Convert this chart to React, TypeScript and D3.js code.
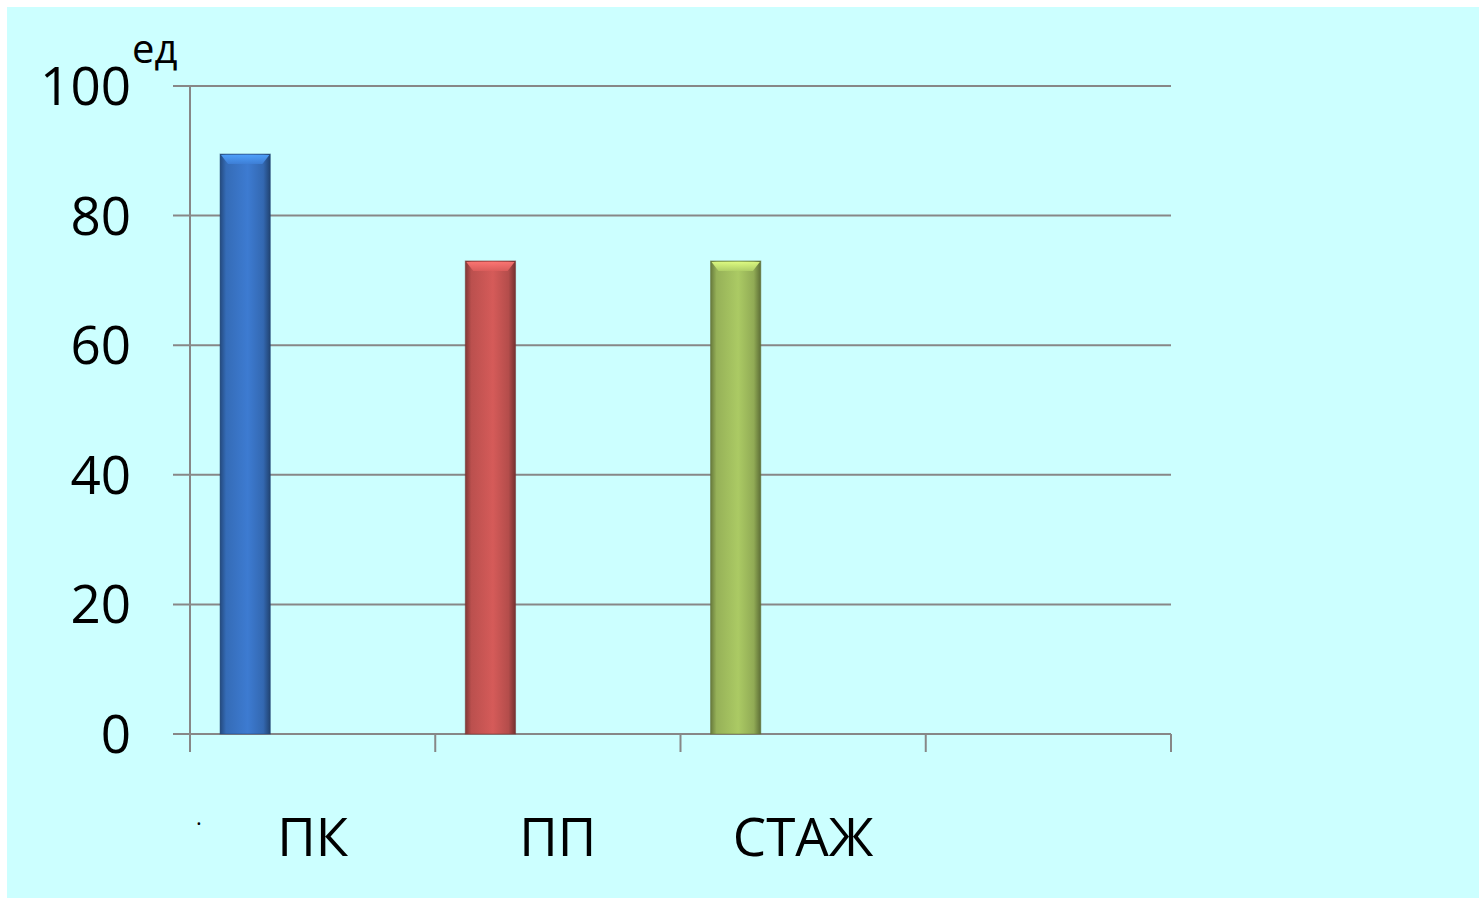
import React, { useEffect, useRef } from "react";
import * as d3 from "d3";

const categories = ["ПК", "ПП", "СТАЖ", ""];
const values = [89.5, 73, 73];
const barColors = ["#3a76c8", "#cc5755", "#a4c260"];
const yTicks = [0, 20, 40, 60, 80, 100];
const unitLabel = "ед";

const W = 1479;
const H = 898;

export default function App() {
  const ref = useRef(null);

  useEffect(() => {
    document.body.style.margin = "0";
    const svg = d3.select(ref.current);
    svg.selectAll("*").remove();

    const font = "'Open Sans', sans-serif";
    const left = 190, right = 1171, top = 86, bottom = 734;

    const x = d3.scaleBand().domain(categories).range([left, right]).padding(0);
    const y = d3.scaleLinear().domain([0, 100]).range([bottom, top]);

    // background
    svg.append("rect").attr("x", 7).attr("y", 7).attr("width", W - 7).attr("height", H - 7).attr("fill", "#ccffff");

    const defs = svg.append("defs");
    barColors.forEach((c, i) => {
      const base = d3.color(c);
      const g = defs.append("linearGradient").attr("id", `bar${i}`).attr("x1", 0).attr("x2", 1).attr("y1", 0).attr("y2", 0);
      g.append("stop").attr("offset", "0%").attr("stop-color", base.darker(1.3).formatHex());
      g.append("stop").attr("offset", "12%").attr("stop-color", base.darker(0.25).formatHex());
      g.append("stop").attr("offset", "55%").attr("stop-color", base.brighter(0.12).formatHex());
      g.append("stop").attr("offset", "86%").attr("stop-color", base.darker(0.35).formatHex());
      g.append("stop").attr("offset", "100%").attr("stop-color", base.darker(1.6).formatHex());
      const t = defs.append("linearGradient").attr("id", `top${i}`).attr("x1", 0).attr("x2", 0).attr("y1", 0).attr("y2", 1);
      t.append("stop").attr("offset", "0%").attr("stop-color", base.brighter(0.9).formatHex());
      t.append("stop").attr("offset", "100%").attr("stop-color", base.brighter(0.2).formatHex());
    });

    const gridColor = "#878787";

    // gridlines
    svg.append("g").selectAll("line").data(yTicks).join("line")
      .attr("x1", 173).attr("x2", right)
      .attr("y1", d => y(d)).attr("y2", d => y(d))
      .attr("stroke", gridColor).attr("stroke-width", 2);

    // y axis line
    svg.append("line").attr("x1", left).attr("x2", left).attr("y1", top).attr("y2", bottom + 18)
      .attr("stroke", gridColor).attr("stroke-width", 2);

    // x ticks at band edges
    const edges = categories.map(c => x(c)).concat([right]);
    svg.append("g").selectAll("line").data(edges.slice(1)).join("line")
      .attr("x1", d => d).attr("x2", d => d)
      .attr("y1", bottom).attr("y2", bottom + 18)
      .attr("stroke", gridColor).attr("stroke-width", 2);

    // y labels
    svg.append("g").selectAll("text").data(yTicks).join("text")
      .attr("x", 131).attr("y", d => y(d))
      .attr("dy", "0.36em")
      .attr("text-anchor", "end")
      .attr("font-family", font).attr("font-size", 53)
      .attr("fill", "#000")
      .text(d => d);

    svg.append("text").attr("x", 132).attr("y", 63)
      .attr("font-family", font).attr("font-size", 40).attr("fill", "#000")
      .text(unitLabel);

    // bars
    const bw = x.bandwidth() * 0.205;
    const bx = (i) => x(categories[i]) + x.bandwidth() * 0.225 - bw / 2;
    const bars = svg.append("g").selectAll("g").data(values).join("g");
    bars.append("rect")
      .attr("x", (d, i) => bx(i))
      .attr("y", d => y(d))
      .attr("width", bw)
      .attr("height", d => y(0) - y(d))
      .attr("fill", (d, i) => `url(#bar${i})`)
      .attr("stroke", (d, i) => d3.color(barColors[i]).darker(1.5).formatHex())
      .attr("stroke-opacity", 0.5)
      .attr("stroke-width", 1);
    // top bevel highlight
    bars.append("path")
      .attr("d", (d, i) => {
        const x0 = bx(i);
        const y0 = y(d);
        return `M${x0 + 1},${y0 + 1} L${x0 + bw - 1},${y0 + 1} L${x0 + bw - 8},${y0 + 10} L${x0 + 8},${y0 + 10} Z`;
      })
      .attr("fill", (d, i) => `url(#top${i})`)
      .attr("opacity", 0.9);

    // x labels
    svg.append("g").selectAll("text").data(categories).join("text")
      .attr("x", d => x(d) + x.bandwidth() / 2)
      .attr("y", 856)
      .attr("text-anchor", "middle")
      .attr("font-family", font).attr("font-size", 53)
      .attr("fill", "#000")
      .text(d => d);

    svg.append("text").attr("x", 196).attr("y", 825)
      .attr("font-family", font).attr("font-size", 22).attr("fill", "#000")
      .text(".");
  }, []);

  return <svg ref={ref} width={W} height={H} style={{ display: "block" }} />;
}
